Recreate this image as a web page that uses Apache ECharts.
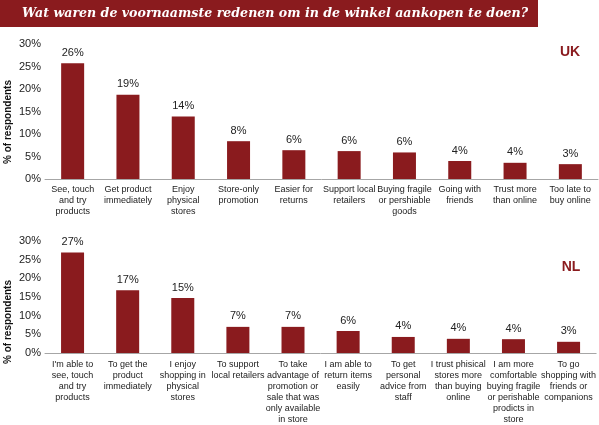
<!DOCTYPE html>
<html><head><meta charset="utf-8">
<script src="https://cdn.jsdelivr.net/npm/echarts@6/dist/echarts.min.js"></script>
<style>html,body{margin:0;padding:0;background:#fff}#c{width:599px;height:425px}</style>
</head><body><div id="c"></div>
<script>
var titleText = 'Wat waren de voornaamste redenen om in de winkel aankopen te doen?';
var yAxisName = '% of respondents';
var ukCategories = ['See, touch\nand try\nproducts','Get product\nimmediately','Enjoy\nphysical\nstores','Store-only\npromotion','Easier for\nreturns','Support local\nretailers','Buying fragile\nor pershiable\ngoods','Going with\nfriends','Trust more\nthan online','Too late to\nbuy online'];
var ukValues = [25.7, 18.7, 13.9, 8.4, 6.4, 6.2, 5.9, 4.0, 3.6, 3.3];
var nlCategories = ["I'm able to\nsee, touch\nand try\nproducts",'To get the\nproduct\nimmediately','I enjoy\nshopping in\nphysical\nstores','To support\nlocal retailers','To take\nadvantage of\npromotion or\nsale that was\nonly available\nin store','I am able to\nreturn items\neasily','To get\npersonal\nadvice from\nstaff','I trust phisical\nstores more\nthan buying\nonline','I am more\ncomfortable\nbuying fragile\nor perishable\nprodicts in\nstore','To go\nshopping with\nfriends or\ncompanions'];
var nlValues = [26.9, 16.8, 14.7, 7.0, 7.0, 5.9, 4.3, 3.8, 3.7, 3.0];
var yMin = 0, yMax = 30, yStep = 5;
var panelNames = ['UK', 'NL'];

var RED = '#8A1B1E';
var FONT = 'Liberation Sans, Arial, sans-serif';
var chart = echarts.init(document.getElementById('c'), null, {renderer:'canvas'});

function xAx(i, cats, margin){
  return {type:'category', gridIndex:i, data:cats,
    axisLine:{lineStyle:{color:'#a6a6a6', width:1}},
    axisTick:{length:3, lineStyle:{color:'#a6a6a6'}},
    axisLabel:{interval:0, fontSize:9, lineHeight:11, color:'#222', fontFamily:FONT, margin:margin}};
}
function yAx(i){
  return {type:'value', gridIndex:i, min:yMin, max:yMax, interval:yStep,
    axisLine:{show:false}, axisTick:{show:false}, splitLine:{show:false},
    axisLabel:{formatter:'{value}%', fontSize:11, color:'#222', fontFamily:FONT, margin:4}};
}
function ser(i, vals){
  return {type:'bar', xAxisIndex:i, yAxisIndex:i, data:vals, barWidth:23,
    itemStyle:{color:RED},
    label:{show:true, position:'top', distance:5, fontSize:11, color:'#222', fontFamily:FONT,
      formatter:function(p){return Math.round(p.value)+'%';}},
    silent:true};
}

chart.setOption({
  animation:false,
  grid:[{left:45, right:1, top:44, height:135},{left:45, right:1, top:241, height:115}],
  xAxis:[xAx(0, ukCategories, 5), xAx(1, nlCategories, 6)],
  yAxis:[yAx(0), yAx(1)],
  series:[ser(0, ukValues), ser(1, nlValues)],
  graphic:[
    {type:'rect', shape:{x:0, y:0, width:538, height:27}, style:{fill:RED}},
    {type:'text', x:22, y:14, style:{text:titleText, fill:'#fff', font:'italic bold 12.6px "DejaVu Serif", serif', align:'left', verticalAlign:'middle'}},
    {type:'text', x:8, y:122, rotation:Math.PI/2, style:{text:yAxisName, fill:'#111', font:'bold 10px "Liberation Sans", Arial, sans-serif', align:'center', verticalAlign:'middle'}},
    {type:'text', x:8, y:322, rotation:Math.PI/2, style:{text:yAxisName, fill:'#111', font:'bold 10px "Liberation Sans", Arial, sans-serif', align:'center', verticalAlign:'middle'}},
    {type:'text', x:570, y:52, style:{text:panelNames[0], fill:RED, font:'bold 14px "Liberation Sans", Arial, sans-serif', align:'center', verticalAlign:'middle'}},
    {type:'text', x:571, y:267, style:{text:panelNames[1], fill:RED, font:'bold 14px "Liberation Sans", Arial, sans-serif', align:'center', verticalAlign:'middle'}}
  ]
});
</script></body></html>
